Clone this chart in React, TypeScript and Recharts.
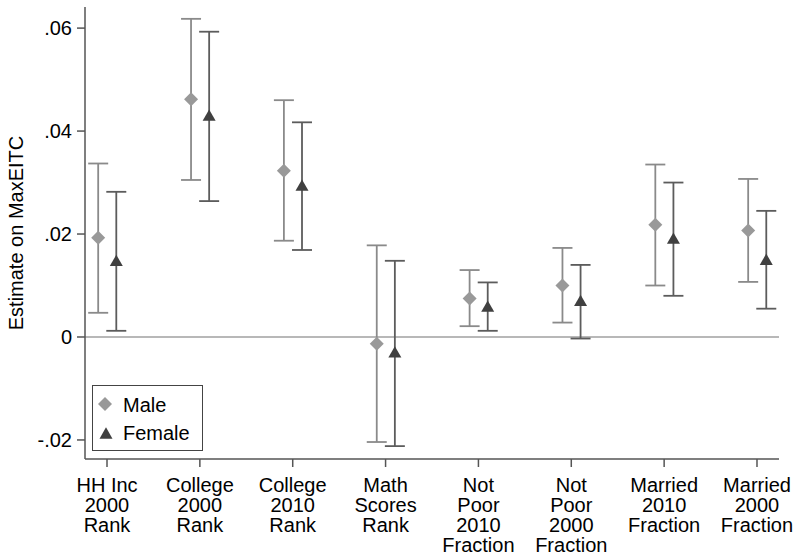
import React from "react";
import {
  ScatterChart,
  Scatter,
  XAxis,
  YAxis,
  ErrorBar,
  ReferenceLine,
  Label,
} from "recharts";

// outcome names, one entry per line of the tick label
const categories = [
  ["HH Inc", "2000", "Rank"],
  ["College", "2000", "Rank"],
  ["College", "2010", "Rank"],
  ["Math", "Scores", "Rank"],
  ["Not", "Poor", "2010", "Fraction"],
  ["Not", "Poor", "2000", "Fraction"],
  ["Married", "2010", "Fraction"],
  ["Married", "2000", "Fraction"],
];

const maleEst = [0.0193, 0.0462, 0.0323, -0.0013, 0.0075, 0.01, 0.0218, 0.0207];
const maleLo = [0.0047, 0.0305, 0.0187, -0.0204, 0.0021, 0.0028, 0.01, 0.0107];
const maleHi = [0.0337, 0.0618, 0.046, 0.0178, 0.013, 0.0173, 0.0335, 0.0307];

const femaleEst = [0.0149, 0.0431, 0.0295, -0.0029, 0.006, 0.0071, 0.0192, 0.0151];
const femaleLo = [0.0012, 0.0264, 0.0169, -0.0212, 0.0012, -0.0003, 0.008, 0.0055];
const femaleHi = [0.0282, 0.0593, 0.0417, 0.0148, 0.0106, 0.014, 0.03, 0.0245];

const yTicks = [-0.02, 0, 0.02, 0.04, 0.06];

const MALE = "#999999";
const MALE_BAR = "#8a8a8a";
const FEMALE = "#404040";
const FEMALE_BAR = "#5c5c5c";
const AXIS = "#555555";
const FONT = "'Liberation Sans', Arial, sans-serif";
const FS = 20;

const build = (est: number[], lo: number[], hi: number[], shift: number) =>
  est.map((y, i) => ({ x: i + 1 + shift, y, err: [y - lo[i], hi[i] - y] }));

const maleData = build(maleEst, maleLo, maleHi, -0.095);
const femaleData = build(femaleEst, femaleLo, femaleHi, 0.1);

const Diamond = ({ cx, cy, r = 7, fill = MALE }: any) => (
  <polygon
    points={`${cx},${cy - r} ${cx + r},${cy} ${cx},${cy + r} ${cx - r},${cy}`}
    fill={fill}
  />
);

const Triangle = ({ cx, cy, s = 13, fill = FEMALE }: any) => {
  const h = s * 0.87;
  return (
    <polygon
      points={`${cx},${cy - h / 2} ${cx + s / 2},${cy + h / 2} ${cx - s / 2},${cy + h / 2}`}
      fill={fill}
    />
  );
};

const fmtY = (v: number) => {
  if (v === 0) return "0";
  return v.toFixed(2).replace("0.", ".");
};

const CategoryTick = ({ x, y, payload }: any) => {
  const lines = categories[Math.round(payload.value) - 1] || [];
  return (
    <text x={x} y={y} textAnchor="middle" fontFamily={FONT} fontSize={FS} fill="#000">
      {lines.map((line, i) => (
        <tspan key={i} x={x} dy={i === 0 ? 23 : 20}>
          {line}
        </tspan>
      ))}
    </text>
  );
};

export default function App() {
  return (
    <div
      style={{
        position: "absolute",
        left: 0,
        top: 0,
        width: 796,
        height: 556,
        background: "#fff",
      }}
    >
      <ScatterChart
        width={796}
        height={556}
        margin={{ top: 7, right: 17, bottom: 0, left: 0 }}
      >
        <XAxis
          dataKey="x"
          type="number"
          domain={[0.763, 8.237]}
          ticks={[1, 2, 3, 4, 5, 6, 7, 8]}
          height={97}
          axisLine={{ stroke: AXIS, strokeWidth: 1.5 }}
          tickLine={{ stroke: AXIS, strokeWidth: 1.5 }}
          tickSize={8}
          tick={<CategoryTick />}
          interval={0}
        />
        <YAxis
          dataKey="y"
          type="number"
          domain={[-0.0237, 0.0641]}
          ticks={yTicks}
          width={85}
          allowDataOverflow
          tickFormatter={fmtY}
          axisLine={{ stroke: AXIS, strokeWidth: 1.5 }}
          tickLine={{ stroke: AXIS, strokeWidth: 1.5 }}
          tickSize={8}
          tickMargin={5}
          tick={{ fontFamily: FONT, fontSize: FS, fill: "#000" }}
        >
          <Label
            value="Estimate on MaxEITC"
            angle={-90}
            position="insideLeft"
            offset={0}
            style={{
              fontFamily: FONT,
              fontSize: FS,
              fill: "#000",
              textAnchor: "middle",
            }}
            dx={16}
          />
        </YAxis>
        <ReferenceLine y={0} stroke="#a0a0a0" strokeWidth={1.5} />
        <Scatter
          name="Male"
          data={maleData}
          shape={<Diamond />}
          isAnimationActive={false}
        >
          <ErrorBar
            dataKey="err"
            direction="y"
            width={10}
            stroke={MALE_BAR}
            strokeWidth={1.8}
            isAnimationActive={false}
          />
        </Scatter>
        <Scatter
          name="Female"
          data={femaleData}
          shape={<Triangle />}
          isAnimationActive={false}
        >
          <ErrorBar
            dataKey="err"
            direction="y"
            width={10}
            stroke={FEMALE_BAR}
            strokeWidth={1.8}
            isAnimationActive={false}
          />
        </Scatter>
      </ScatterChart>

      {/* legend box */}
      <div
        style={{
          position: "absolute",
          left: 92,
          top: 385,
          width: 111,
          height: 66,
          border: "1px solid #444",
          boxSizing: "border-box",
          background: "#fff",
        }}
      >
        <svg width={109} height={64} style={{ display: "block" }}>
          <Diamond cx={12} cy={18} r={7} fill={MALE} />
          <Triangle cx={13} cy={47} s={13} fill={FEMALE} />
          <text x={30} y={26} fontFamily={FONT} fontSize={FS} fill="#000">
            Male
          </text>
          <text x={30} y={54} fontFamily={FONT} fontSize={FS} fill="#000">
            Female
          </text>
        </svg>
      </div>
    </div>
  );
}
